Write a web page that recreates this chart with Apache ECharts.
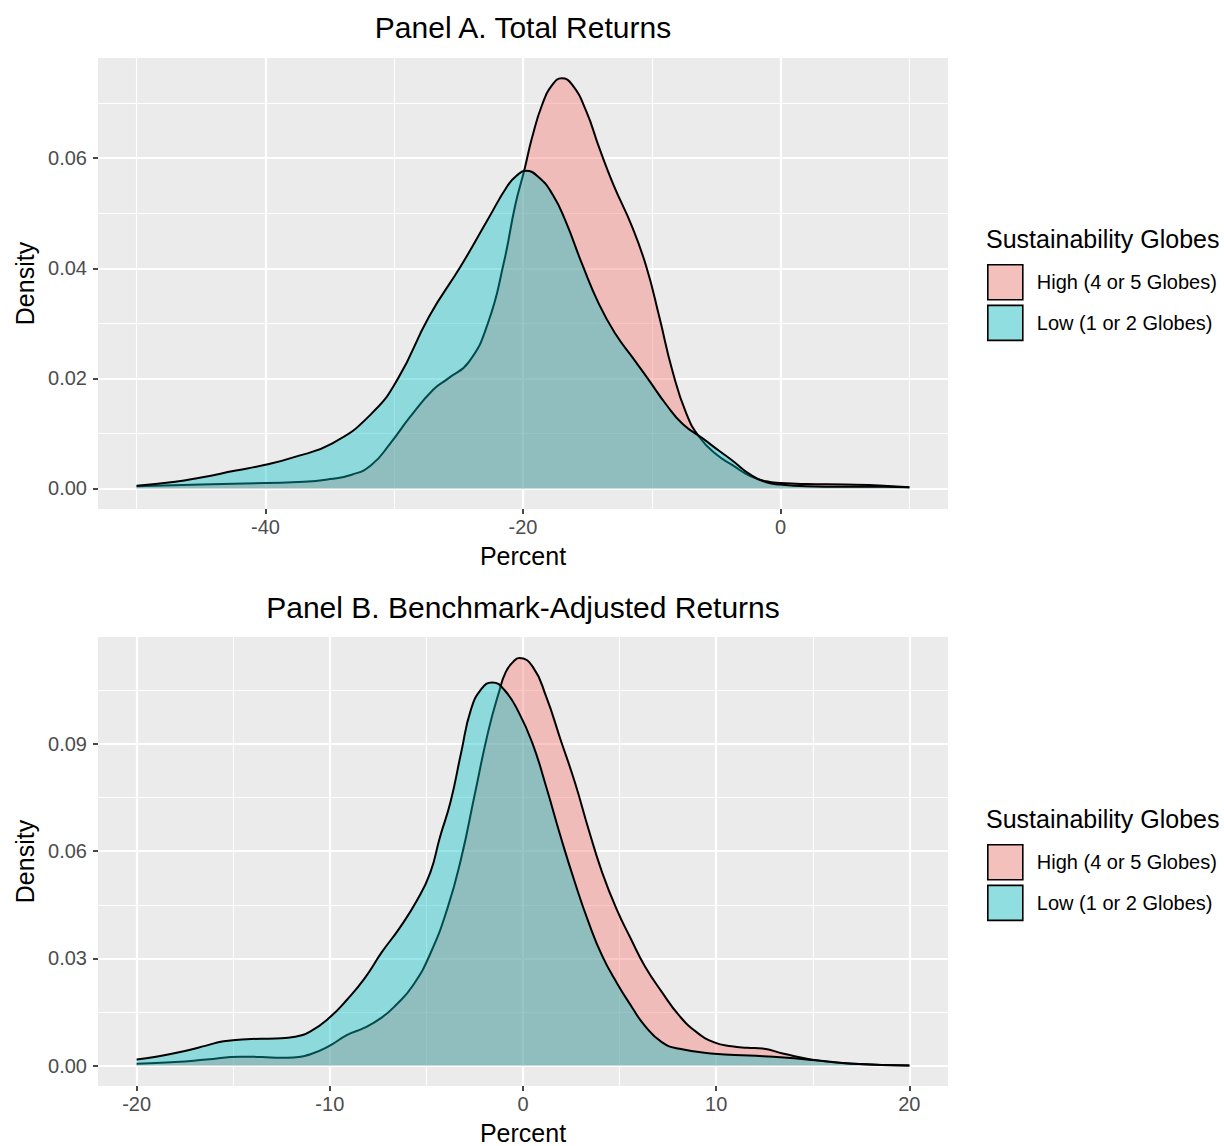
<!DOCTYPE html>
<html>
<head>
<meta charset="utf-8">
<script src="https://cdn.jsdelivr.net/npm/echarts@6/dist/echarts.min.js"></script>
<style>
  html, body { margin: 0; padding: 0; background: #fff; }
  #chart { width: 1224px; height: 1146px; }
</style>
</head>
<body>
<div id="chart"></div>
<script>
// 组名
const groupNames = ['High (4 or 5 Globes)', 'Low (1 or 2 Globes)']

// Panel A 总收益密度
const totalHighX = [-50, -45, -40, -37, -35, -33.3, -31.8, -30.3, -28.8, -27, -25.8, -24.2, -22.7, -21.5, -20.6, -19.9, -19.3, -18.5, -17.7, -17, -16.2, -15.1, -14.1, -13, -11.5, -10.4, -9.4, -8.4, -7.3, -6.3, -5, -3.7, -2.4, -1.1, 0, 2, 5, 8, 10]
const totalHighY = [0.0004, 0.0007, 0.0010, 0.0012, 0.0017, 0.0025, 0.0042, 0.0082, 0.0129, 0.0179, 0.0200, 0.0230, 0.0302, 0.0409, 0.0515, 0.0578, 0.0637, 0.0698, 0.0734, 0.0745, 0.0734, 0.0686, 0.0620, 0.0553, 0.0474, 0.0401, 0.0310, 0.0214, 0.0135, 0.0093, 0.0062, 0.0042, 0.0023, 0.0013, 0.0010, 0.0008, 0.0007, 0.0005, 0.0002]
const totalLowX = [-50, -47, -45, -42.4, -40, -37.9, -34.8, -31.8, -29.7, -27.3, -24.8, -22.7, -21.2, -20.5, -19.8, -18.8, -17.7, -16.7, -15.4, -14.1, -12.8, -11.5, -10.2, -8.9, -7.6, -6, -4.75, -3.7, -2.4, -1.1, 0, 2, 5, 8, 10]
const totalLowY = [0.0005, 0.0012, 0.0020, 0.0032, 0.0043, 0.0056, 0.0082, 0.0135, 0.0200, 0.0312, 0.0405, 0.0490, 0.0550, 0.0568, 0.0577, 0.0566, 0.0534, 0.0486, 0.0407, 0.0335, 0.0280, 0.0238, 0.0196, 0.0153, 0.0117, 0.0090, 0.0068, 0.0050, 0.0026, 0.0011, 0.0007, 0.0004, 0.0003, 0.0003, 0.0002]

// Panel B 基准调整收益密度
const adjHighX = [-20, -18, -16.4, -14.6, -13.5, -12.5, -11.9, -11, -10, -9.1, -8.2, -7.3, -6.6, -5.7, -4.8, -3.9, -3.2, -2.5, -1.8, -1.25, -0.9, -0.5, -0.2, 0.5, 1.2, 1.95, 2.7, 3.4, 4.1, 4.85, 5.6, 6.3, 7.2, 8.1, 9, 9.9, 10.8, 11.6, 12.4, 13.5, 15.3, 17.1, 20]
const adjHighY = [0.0005, 0.0010, 0.0017, 0.0025, 0.0024, 0.0022, 0.0023, 0.0032, 0.0056, 0.0086, 0.0106, 0.0135, 0.0168, 0.0224, 0.0313, 0.0442, 0.0580, 0.0758, 0.0935, 0.1044, 0.1100, 0.1130, 0.1140, 0.1116, 0.1032, 0.0911, 0.0790, 0.0660, 0.0540, 0.0437, 0.0353, 0.0279, 0.0205, 0.0139, 0.0093, 0.0065, 0.0054, 0.0050, 0.0048, 0.0033, 0.0014, 0.0005, 0.0000]
const adjLowX = [-20, -19, -17.5, -16.4, -15.5, -14.3, -12.8, -11.8, -11, -10, -9.1, -8.2, -7.3, -6.4, -5.5, -4.8, -4.3, -3.75, -3.2, -2.7, -2.15, -1.6, -0.95, -0.2, 0.5, 1.2, 1.95, 2.7, 3.4, 4.1, 4.85, 5.6, 6.3, 7.2, 8.1, 9.9, 11.7, 13.5, 15.3, 17.1, 20]
const adjLowY = [0.0017, 0.0025, 0.0041, 0.0056, 0.0068, 0.0074, 0.0076, 0.0081, 0.0096, 0.0135, 0.0185, 0.0244, 0.0318, 0.0384, 0.0461, 0.0540, 0.0639, 0.0738, 0.0876, 0.0995, 0.1054, 0.1072, 0.1050, 0.0986, 0.0900, 0.0780, 0.0640, 0.0510, 0.0400, 0.0307, 0.0232, 0.0167, 0.0112, 0.0065, 0.0047, 0.0033, 0.0028, 0.0023, 0.0014, 0.0005, 0.0000]

// 刻度
const totalXMajor = [-40, -20, 0]
const totalXMinor = [-50, -30, -10, 10]
const totalYMajor = [0, 0.02, 0.04, 0.06]
const totalYMinor = [0.01, 0.03, 0.05, 0.07]
const adjXMajor = [-20, -10, 0, 10, 20]
const adjXMinor = [-15, -5, 5, 15]
const adjYMajor = [0, 0.03, 0.06, 0.09]
const adjYMinor = [0.015, 0.045, 0.075, 0.105]

const FONT = "'Liberation Sans', Arial, Helvetica, sans-serif"
const FILL_HIGH = 'rgba(248, 118, 109, 0.4)'
const FILL_LOW = 'rgba(0, 191, 196, 0.4)'
const KEY_HIGH = '#F4C0BC'
const KEY_LOW = '#91DEE0'

const zip = (xs, ys) => xs.map((x, i) => [x, ys[i]])

/**
 * 主刻度轴 + 次网格轴
 */
function axisPair(dim, gridIndex, min, max, major, minor, name, fmt) {
    const isX = dim === 'x'
    const main = {
        type: 'value',
        gridIndex: gridIndex,
        min: min,
        max: max,
        position: isX ? 'bottom' : 'left',
        name: name,
        nameLocation: 'middle',
        nameGap: isX ? 34 : 61,
        nameTextStyle: { color: '#000', fontSize: 25, fontFamily: FONT },
        axisLine: { show: false, onZero: false },
        axisTick: { show: true, length: 5, customValues: major, lineStyle: { color: '#333', width: 1.8 } },
        axisLabel: {
            show: true,
            customValues: major,
            margin: isX ? 8 : 11,
            color: '#4D4D4D',
            fontSize: 20,
            fontFamily: FONT,
            formatter: fmt,
        },
        splitLine: { show: true, lineStyle: { color: '#fff', width: 2.2 } },
    }
    const sub = {
        type: 'value',
        gridIndex: gridIndex,
        min: min,
        max: max,
        position: isX ? 'bottom' : 'left',
        axisLine: { show: false, onZero: false },
        axisTick: { show: false, customValues: minor },
        axisLabel: { show: false, customValues: minor },
        splitLine: { show: true, lineStyle: { color: '#fff', width: 1.1 } },
    }
    return [main, sub]
}

// z 决定叠放：Low 覆盖 High（含其轮廓线）
function densitySeries(name, xIdx, yIdx, data, fill, z) {
    return {
        name: name,
        type: 'line',
        xAxisIndex: xIdx,
        yAxisIndex: yIdx,
        data: data,
        smooth: 0.5,
        showSymbol: false,
        symbol: 'none',
        silent: true,
        lineStyle: { color: '#000', width: 2 },
        itemStyle: { color: fill },
        areaStyle: { color: fill, origin: 'auto', opacity: 1 },
        z: z,
    }
}

function legendFor(top) {
    return {
        orient: 'vertical',
        left: 987,
        top: top,
        padding: 0,
        icon: 'rect',
        itemWidth: 35,
        itemHeight: 35,
        itemGap: 4,
        selectedMode: false,
        textStyle: { color: '#000', fontSize: 20, fontFamily: FONT, padding: [0, 0, 0, 9] },
        data: [
            { name: groupNames[0], itemStyle: { color: KEY_HIGH, borderColor: '#000', borderWidth: 1.6 } },
            { name: groupNames[1], itemStyle: { color: KEY_LOW, borderColor: '#000', borderWidth: 1.6 } },
        ],
    }
}

const fmt2 = (v) => v.toFixed(2)
const fmtInt = (v) => String(Math.round(v))

const xA = axisPair('x', 0, -53, 13, totalXMajor, totalXMinor, 'Percent', fmtInt)
const yA = axisPair('y', 0, -0.00373, 0.0782, totalYMajor, totalYMinor, 'Density', fmt2)
const xB = axisPair('x', 1, -22, 22, adjXMajor, adjXMinor, 'Percent', fmtInt)
const yB = axisPair('y', 1, -0.0057, 0.1199, adjYMajor, adjYMinor, 'Density', fmt2)

const chart = echarts.init(document.getElementById('chart'), null, { renderer: 'svg' })

const option = {
    backgroundColor: '#fff',
    animation: false,
    textStyle: { fontFamily: FONT },
    grid: [
        { left: 98, top: 58, width: 850, height: 451, show: true, backgroundColor: '#EBEBEB', borderWidth: 0 },
        { left: 98, top: 637, width: 850, height: 451, show: true, backgroundColor: '#EBEBEB', borderWidth: 0 },
    ],
    xAxis: [xA[0], xA[1], xB[0], xB[1]],
    yAxis: [yA[0], yA[1], yB[0], yB[1]],
    legend: [legendFor(264), legendFor(844)],
    graphic: [
        { type: 'text', x: 523, y: 27, style: { text: 'Panel A. Total Returns', fill: '#000', font: `30px ${FONT}`, textAlign: 'center', textVerticalAlign: 'middle' } },
        { type: 'text', x: 523, y: 607, style: { text: 'Panel B. Benchmark-Adjusted Returns', fill: '#000', font: `30px ${FONT}`, textAlign: 'center', textVerticalAlign: 'middle' } },
        { type: 'text', x: 986, y: 239, style: { text: 'Sustainability Globes', fill: '#000', font: `25px ${FONT}`, textAlign: 'left', textVerticalAlign: 'middle' } },
        { type: 'text', x: 986, y: 819, style: { text: 'Sustainability Globes', fill: '#000', font: `25px ${FONT}`, textAlign: 'left', textVerticalAlign: 'middle' } },
    ],
    series: [
        densitySeries(groupNames[0], 0, 0, zip(totalHighX, totalHighY), FILL_HIGH, 3),
        densitySeries(groupNames[1], 0, 0, zip(totalLowX, totalLowY), FILL_LOW, 4),
        densitySeries(groupNames[0], 2, 2, zip(adjHighX, adjHighY), FILL_HIGH, 3),
        densitySeries(groupNames[1], 2, 2, zip(adjLowX, adjLowY), FILL_LOW, 4),
    ],
}

chart.setOption(option)
</script>
</body>
</html>
